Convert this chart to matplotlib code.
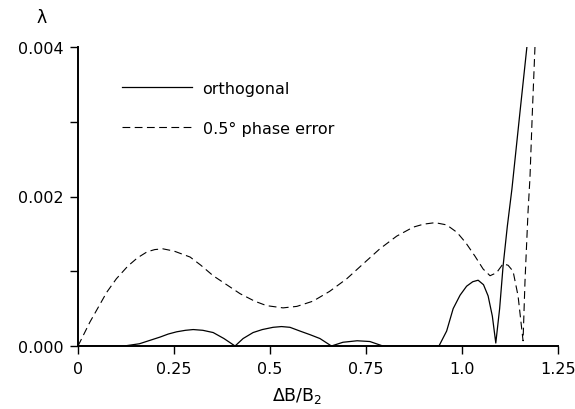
import matplotlib
matplotlib.use("Agg")
import matplotlib.pyplot as plt
from matplotlib.ticker import FixedLocator

# Werte
x_orth = [0.0, 0.08, 0.12, 0.16, 0.19, 0.214, 0.235, 0.257, 0.28, 0.30, 0.325, 0.352, 0.38, 0.409,
          0.43, 0.456, 0.48, 0.508, 0.53, 0.552, 0.578, 0.605, 0.63, 0.66, 0.69, 0.727, 0.76, 0.794,
          0.94, 0.96, 0.977, 0.995, 1.012, 1.028, 1.042, 1.056, 1.068, 1.079, 1.088, 1.098, 1.107,
          1.118, 1.13, 1.151, 1.169]
y_orth = [0.0, 0.0, 0.0, 0.00003, 0.00008, 0.00012, 0.00016, 0.00019, 0.00021, 0.00022, 0.00021,
          0.00018, 0.0001, 0.0,
          0.0001, 0.00018, 0.00022, 0.00025, 0.00026, 0.00025, 0.0002, 0.00015, 0.0001, 0.0, 0.00005,
          0.00007, 0.00006, 0.0,
          0.0, 0.0002, 0.0005, 0.00068, 0.0008, 0.00086, 0.00088, 0.00082, 0.00067, 0.0004, 0.00004,
          0.0005, 0.00107, 0.0016, 0.0021, 0.00313, 0.004]

x_phase = [0.0, 0.031, 0.075, 0.10, 0.13, 0.155, 0.18, 0.20, 0.221, 0.25, 0.292, 0.32, 0.352, 0.39,
           0.422, 0.46, 0.491, 0.534, 0.57, 0.612, 0.655, 0.70, 0.745, 0.786, 0.83, 0.873, 0.90, 0.93,
           0.96, 0.987, 1.01, 1.034, 1.055, 1.073, 1.09, 1.107, 1.12, 1.133, 1.146, 1.159, 1.164,
           1.172, 1.177, 1.183, 1.19]
y_phase = [0.0, 0.00032, 0.00072, 0.0009, 0.00107, 0.00118, 0.00126, 0.00129, 0.0013, 0.00127,
           0.00119, 0.00108, 0.00094, 0.00081, 0.0007, 0.0006, 0.00054, 0.00051, 0.00053, 0.0006,
           0.00073, 0.0009, 0.00111, 0.0013, 0.00147, 0.00159, 0.00163, 0.00165, 0.00162, 0.00152,
           0.00138, 0.0012, 0.00103, 0.00094, 0.00098, 0.0011, 0.00108, 0.001, 0.00067, 0.00007,
           0.00086, 0.0018, 0.00225, 0.0031, 0.004]

x_ticks = [0, 0.25, 0.5, 0.75, 1.0, 1.25]
x_tick_labels = ["0", "0.25", "0.5", "0.75", "1.0", "1.25"]
y_ticks = [0.0, 0.002, 0.004]
y_tick_labels = ["0.000", "0.002", "0.004"]
y_minor = [0.001, 0.003]

fig = plt.figure(figsize=(5.75, 4.1), dpi=100)
ax = fig.add_axes([78 / 575, 63 / 410, 480 / 575, 299 / 410])

ax.plot(x_orth, y_orth, color="black", lw=0.9, label="orthogonal")
ax.plot(x_phase, y_phase, color="black", lw=0.8, dashes=(7, 4), label="0.5° phase error")

ax.set_xlim(0, 1.25)
ax.set_ylim(0, 0.004)
ax.spines["top"].set_visible(False)
ax.spines["right"].set_visible(False)
ax.spines["left"].set_linewidth(1.4)
ax.spines["bottom"].set_linewidth(1.4)

ax.set_xticks(x_ticks)
ax.set_xticklabels(x_tick_labels)
ax.set_yticks(y_ticks)
ax.set_yticklabels(y_tick_labels)
ax.yaxis.set_minor_locator(FixedLocator(y_minor))
ax.tick_params(axis="both", which="both", direction="out", length=6, width=1, labelsize=11.5)
ax.tick_params(axis="x", pad=5)
ax.tick_params(axis="y", pad=4)

leg = ax.legend(loc="upper left", bbox_to_anchor=(0.092, 0.886), frameon=False, fontsize=11.5,
                handlelength=4.4, handletextpad=0.63, labelspacing=1.55,
                borderpad=0, borderaxespad=0)

fig.text(42 / 575, 1 - 18 / 410, "λ", fontsize=12.5, ha="center", va="center")
fig.text(297 / 575, 1 - 396 / 410, "ΔB/B$_2$", fontsize=12.5, ha="center", va="center")

fig.savefig("out.png", dpi=100)
